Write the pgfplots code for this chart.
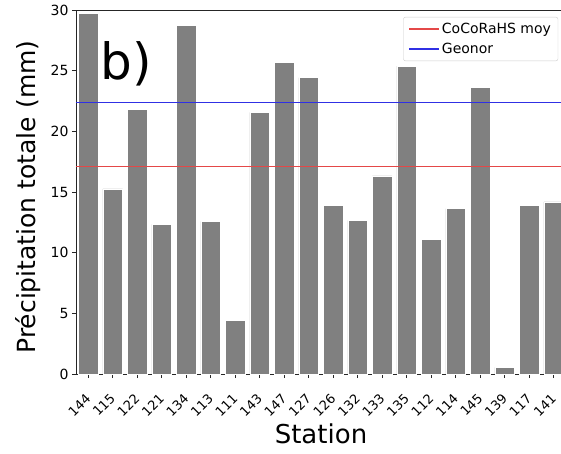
\documentclass[border=0pt]{standalone}
\usepackage{fontspec}
\setmainfont{DejaVu Sans}
\usepackage{pgfplots}
\pgfplotsset{compat=1.18}

\definecolor{barc}{HTML}{808080}
\definecolor{cocored}{RGB}{228,72,72}
\definecolor{geoblue}{RGB}{48,48,228}

\begin{document}
\begin{tikzpicture}[x=1pt,y=1pt]
\begin{axis}[
    scale only axis,
    width=490pt, height=364pt,
    xmin=-0.5, xmax=19.5,
    ymin=0, ymax=30,
    axis x line*=box,
    axis y line*=left,
    axis line style={line width=0.8pt, black!85},
    xtick={0,...,19},
    xticklabels={144,115,122,121,134,113,111,143,147,127,126,132,133,135,112,114,145,139,117,141},
    xtick pos=bottom,
    ytick={0,5,...,30},
    tick align=outside,
    tick style={black!85, line width=0.8pt},
    major tick length=4pt,
    xticklabel shift=18pt,
    xticklabel style={rotate=45, anchor=east,
      font=\fontsize{13}{15}\selectfont, inner sep=0pt},
    yticklabel style={font=\fontsize{14}{16}\selectfont},
    /pgf/number format/assume math mode=true,
    xlabel={Station},
    ylabel={Précipitation totale (mm)},
    every axis x label/.style={at={(axis description cs:0.5,0)}, anchor=center,
      yshift=-60pt, font=\fontsize{26}{30}\selectfont},
    every axis y label/.style={at={(axis description cs:0,0.5)},
      xshift=-48pt, yshift=-5pt, rotate=90, anchor=center,
      font=\fontsize{25}{28}\selectfont},
    legend style={at={(0.984,0.981)}, anchor=north east, draw=black!20,
      rounded corners=2pt, font=\fontsize{14}{16}\selectfont,
      row sep=4pt, inner xsep=5pt, inner ysep=4pt},
    legend cell align=left,
    legend image code/.code={\draw[#1] (0pt,0pt) -- (30pt,0pt);},
    clip=false,
]
\addplot[ybar, bar width=0.8, fill=barc, draw=white, line width=0.6pt, forget plot]
coordinates {
(0,29.7) (1,15.25) (2,21.84) (3,12.34) (4,28.74) (5,12.58) (6,4.45)
(7,21.57) (8,25.7) (9,24.42) (10,13.87) (11,12.67) (12,16.32) (13,25.38)
(14,11.1) (15,13.63) (16,23.6) (17,0.55) (18,13.87) (19,14.18)
};
\addplot[cocored, line width=1.4pt, forget plot] coordinates {(-0.5,17.09) (19.5,17.09)};
\addplot[geoblue, line width=1.4pt, forget plot] coordinates {(-0.5,22.36) (19.5,22.36)};
\addlegendimage{cocored, line width=1.4pt}
\addlegendentry{CoCoRaHS moy}
\addlegendimage{geoblue, line width=1.4pt}
\addlegendentry{Geonor}
\node[anchor=center, font=\fontsize{50}{60}\selectfont] at (axis cs:1.55,25.6) {b)};
\end{axis}
\pgfresetboundingbox
\path[use as bounding box] (-76pt,-80pt) rectangle (485pt,374pt);
\end{tikzpicture}
\end{document}
